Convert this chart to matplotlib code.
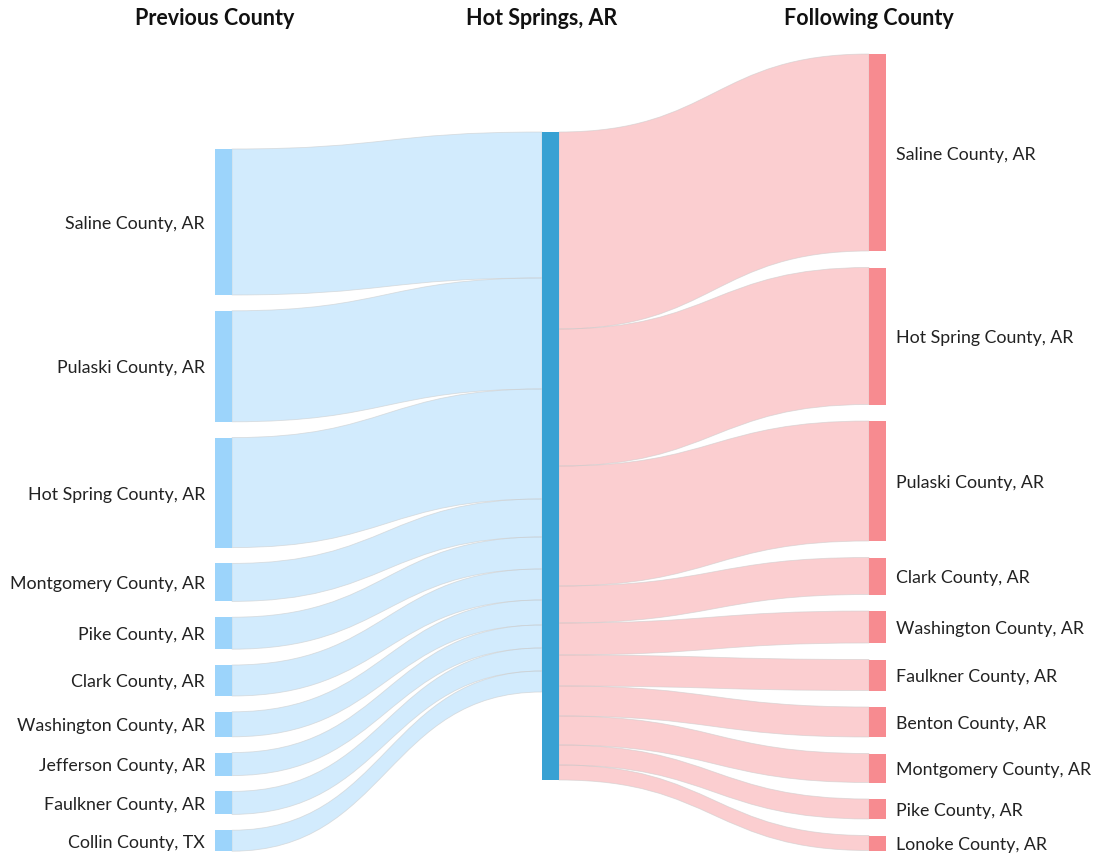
import matplotlib
matplotlib.use("Agg")
import matplotlib.pyplot as plt
from matplotlib.path import Path
from matplotlib.patches import PathPatch, Rectangle

# ---------------- data ----------------
headers = ["Previous County", "Hot Springs, AR", "Following County"]
center_name = "Hot Springs, AR"

prev_counties = ["Saline County, AR", "Pulaski County, AR", "Hot Spring County, AR",
                 "Montgomery County, AR", "Pike County, AR", "Clark County, AR",
                 "Washington County, AR", "Jefferson County, AR", "Faulkner County, AR",
                 "Collin County, TX"]
prev_values = [146, 111, 110, 38, 32, 31, 25, 23, 23, 21]

next_counties = ["Saline County, AR", "Hot Spring County, AR", "Pulaski County, AR",
                 "Clark County, AR", "Washington County, AR", "Faulkner County, AR",
                 "Benton County, AR", "Montgomery County, AR", "Pike County, AR",
                 "Lonoke County, AR"]
next_values = [197, 137, 120, 37, 32, 31, 30, 29, 20, 15]

# ---------------- style / layout ----------------
W, H = 1095, 857
LEFT_X, CENTER_X, RIGHT_X = 215, 542, 869
NODE_W = 17
GAP = 16.5
SCALE = 1.0
LEFT_GAP = 15.8
LEFT_TOP, CENTER_TOP, RIGHT_TOP = 149, 132, 54

C_LEFT_NODE = "#9cd4fb"
C_CENTER_NODE = "#38a1d3"
C_RIGHT_NODE = "#f78b90"
C_LEFT_FLOW = (0.612, 0.831, 0.984, 0.45)
C_RIGHT_FLOW = (0.969, 0.545, 0.565, 0.42)
C_EDGE = (0.80, 0.80, 0.80, 0.6)

plt.rcParams['font.family'] = ['Lato', 'DejaVu Sans']

fig = plt.figure(figsize=(W / 100, H / 100), dpi=100)
ax = fig.add_axes([0, 0, 1, 1])
ax.set_xlim(0, W)
ax.set_ylim(H, 0)
ax.axis("off")


def column_positions(values, top, gap):
    pos = []
    y = top
    for v in values:
        h = v * SCALE
        pos.append((y, y + h))
        y += h + gap
    return pos


def draw_flow(x0, y0a, y0b, x1, y1a, y1b, color):
    xm = (x0 + x1) / 2
    verts = [(x0, y0a), (xm, y0a), (xm, y1a), (x1, y1a),
             (x1, y1b), (xm, y1b), (xm, y0b), (x0, y0b), (x0, y0a)]
    codes = [Path.MOVETO, Path.CURVE4, Path.CURVE4, Path.CURVE4,
             Path.LINETO, Path.CURVE4, Path.CURVE4, Path.CURVE4, Path.CLOSEPOLY]
    ax.add_patch(PathPatch(Path(verts, codes), facecolor=color,
                           edgecolor=C_EDGE, lw=0.6, zorder=1))


left_pos = column_positions(prev_values, LEFT_TOP, LEFT_GAP)
right_pos = column_positions(next_values, RIGHT_TOP, GAP)
center_h = max(sum(prev_values), sum(next_values)) * SCALE

# flows left -> center
cy = CENTER_TOP
for (a, b), v in zip(left_pos, prev_values):
    h = v * SCALE
    draw_flow(LEFT_X + NODE_W, a, b, CENTER_X, cy, cy + h, C_LEFT_FLOW)
    cy += h

# flows center -> right
cy = CENTER_TOP
for (a, b), v in zip(right_pos, next_values):
    h = v * SCALE
    draw_flow(CENTER_X + NODE_W, cy, cy + h, RIGHT_X, a, b, C_RIGHT_FLOW)
    cy += h

LABEL_FS = 12.8
# nodes
for (a, b), name in zip(left_pos, prev_counties):
    ax.add_patch(Rectangle((LEFT_X, a), NODE_W, b - a, facecolor=C_LEFT_NODE,
                           edgecolor="none", zorder=3))
    ax.text(LEFT_X - 10, (a + b) / 2 + 2, name, ha="right", va="center",
            fontsize=LABEL_FS, color="#222222", zorder=4)

ax.add_patch(Rectangle((CENTER_X, CENTER_TOP), NODE_W, center_h,
                       facecolor=C_CENTER_NODE, edgecolor="none", zorder=3))

for (a, b), name in zip(right_pos, next_counties):
    ax.add_patch(Rectangle((RIGHT_X, a), NODE_W, b - a, facecolor=C_RIGHT_NODE,
                           edgecolor="none", zorder=3))
    ax.text(RIGHT_X + NODE_W + 10, (a + b) / 2 + 2, name, ha="left", va="center",
            fontsize=LABEL_FS, color="#222222", zorder=4)

# headers
for x, t in zip([LEFT_X, CENTER_X, RIGHT_X], headers):
    ax.text(x, 18, t, ha="center", va="center", fontsize=15.5,
            fontweight="bold", color="#111111")

fig.savefig("out.png", dpi=100)
